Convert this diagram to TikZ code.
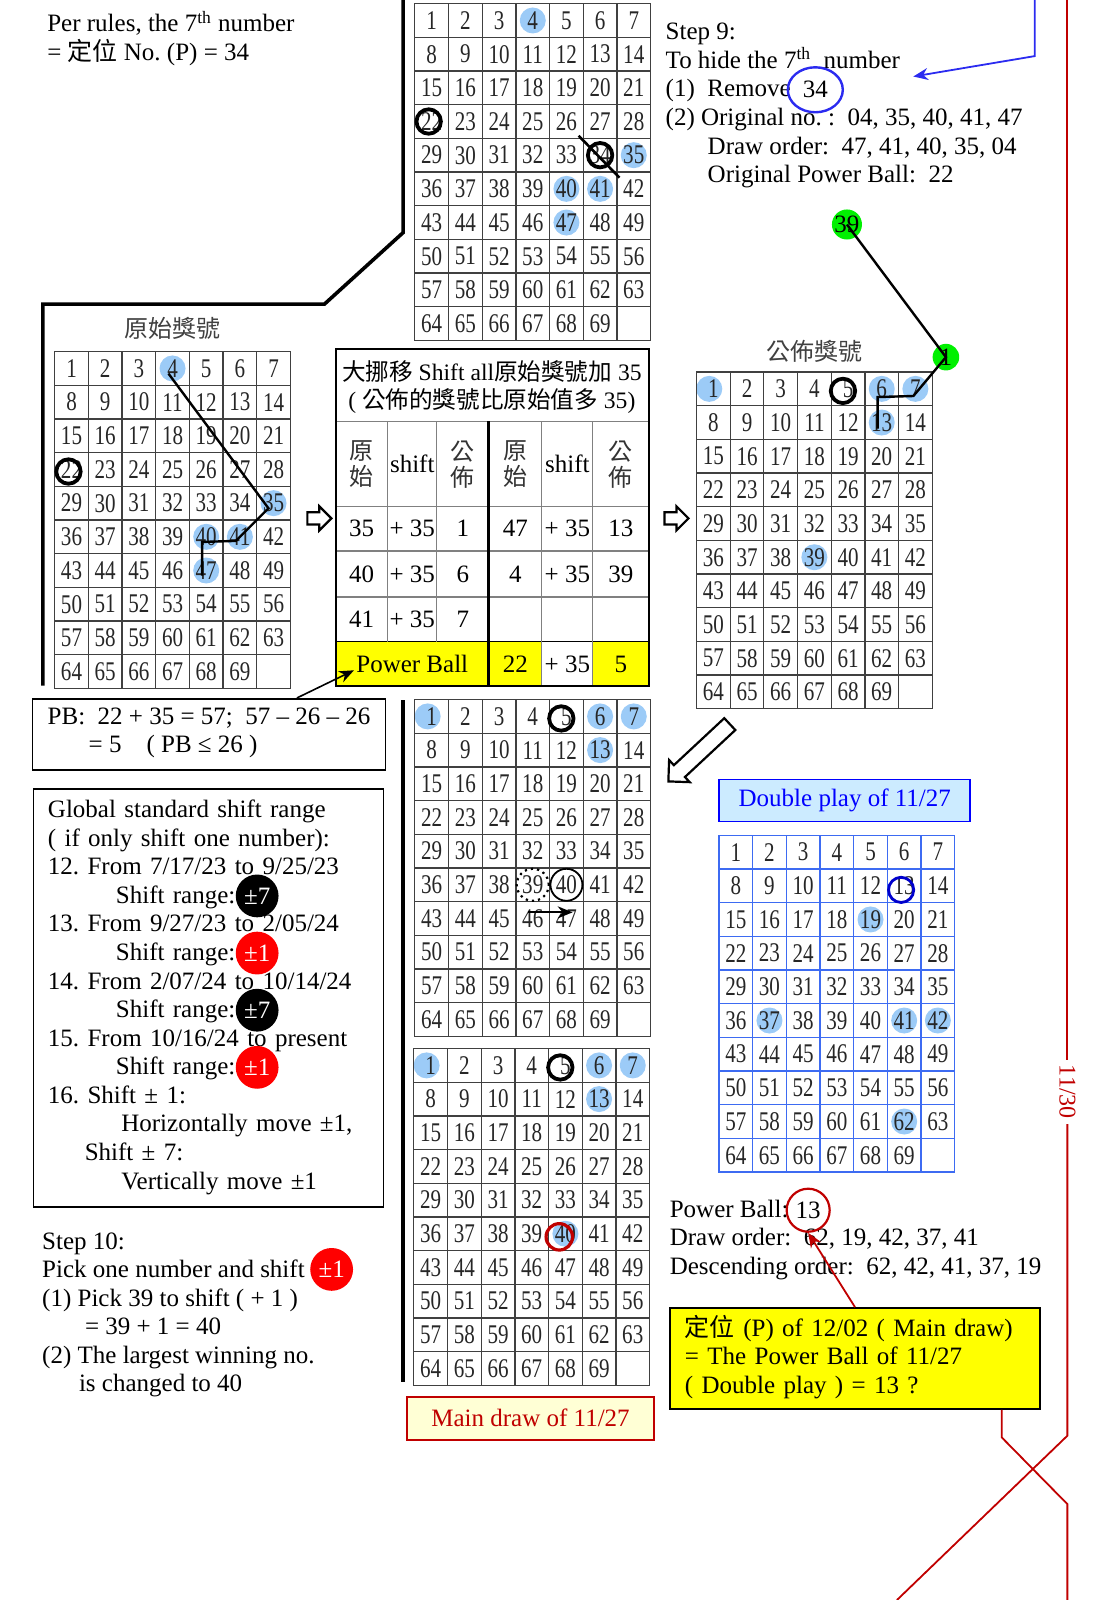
\documentclass[tikz,border=0pt]{standalone}
\usepackage{fontspec}
\setmainfont{Liberation Serif}
\newfontfamily\cjk{Noto Sans CJK TC}
\newfontfamily\gridfont[FakeStretch=0.78]{Liberation Serif}
\usetikzlibrary{arrows.meta,positioning,calc,backgrounds,shapes.geometric,shapes.arrows}
\definecolor{lotBall}{HTML}{9CCBF7}
\definecolor{lotGreen}{HTML}{00F000}
\definecolor{lotRed}{HTML}{C00000}
\definecolor{lotBlue}{HTML}{2B2BF0}
\definecolor{lotGrid}{HTML}{3D6BF2}
\definecolor{lotYellow}{HTML}{FFFF00}
\definecolor{lotCream}{HTML}{FFFFD5}
\definecolor{lotSky}{HTML}{CCEBFF}
\newcommand\txtsize{\fontsize{12.5}{14.29}\selectfont}
% 7 x 10 number grid: name, left, top, line colour
\newcommand\lottogrid[4]{%
  \foreach \r in {0,...,9}{
    \foreach \c in {0,...,6}{
      \pgfmathtruncatemacro\cellno{7*\r+\c+1}
      \ifnum\cellno<70
        \node[lotcell=#4] (#1-\cellno) at (#2+33*\c,#3+33*\r) {\cellno};
      \else
        \node[lotcell=#4] (#1-\cellno) at (#2+33*\c,#3+33*\r) {};
      \fi
    }
  }
}
\tikzset{
  >={Stealth[length=2.6mm,width=2.1mm]},
  lotcell/.style={draw=#1, line width=0.6pt, minimum size=16.84pt, inner sep=0pt,
                  anchor=north west, text=black!85,
                  font=\gridfont\fontsize{13.5}{14}\selectfont},
  ballfill/.style={fill=lotBall},
  markring/.style={draw=black, line width=1.9pt},
  txt/.style={anchor=north west, align=left, inner sep=0pt, font=\txtsize,
              execute at begin node=\strut},
  txtbox/.style={draw, line width=0.9pt, anchor=north west, align=left, font=\txtsize,
                 inner xsep=7.2pt, inner ysep=0pt,
                 execute at begin node=\strut, execute at end node=\strut},
  titlebox/.style={draw, line width=0.9pt, anchor=north west, align=center,
                   font=\txtsize, inner sep=0pt},
  badge/.style={circle, minimum size=21.4pt, inner sep=0pt, text=white, font=\txtsize},
  greenball/.style={circle, fill=lotGreen, minimum size=13.3pt, inner sep=0pt, font=\txtsize},
  gridlabel/.style={font=\cjk\fontsize{12}{14}\selectfont, text=black!75},
  tabtxt/.style={font=\txtsize, inner sep=0pt},
  tabtitle/.style={font=\fontsize{11.8}{14}\selectfont, inner sep=0pt},
  tabhead/.style={font=\cjk\fontsize{12}{13}\selectfont, align=center, inner sep=0pt, text=black!80},
  tabgrey/.style={draw=black!50, line width=0.6pt},
  hollow/.style={single arrow, draw, fill=white, line width=1.1pt, inner xsep=0pt},
  trail/.style={draw, line width=1.2pt},
  redline/.style={draw=lotRed, line width=0.9pt},
}
\begin{document}
\frenchspacing
\begin{tikzpicture}[x=0.5102pt,y=-0.5102pt]
\useasboundingbox (0,0) rectangle (1078,1568);

% grids
\lottogrid{top}{406}{3}{black!75}
\lottogrid{orig}{53}{344}{black!75}
\lottogrid{pub}{682}{364}{black!75}
\lottogrid{mid}{406}{685}{black!75}
\lottogrid{low}{405}{1027}{black!75}
\lottogrid{dbl}{704}{818}{lotGrid}

\node[gridlabel] (origlabel) at (169,322) {原始獎號};
\node[gridlabel] (publabel) at (798,344) {公佈獎號};

% winning balls behind the numbers
\begin{scope}[on background layer]
  \foreach \k in {4,35,40,41,47} {
    \fill[ballfill] (top-\k) circle[radius=6.5pt];
    \fill[ballfill] (orig-\k) circle[radius=6.5pt];
  }
  \foreach \k in {6,7,13,39} \fill[ballfill] (pub-\k) circle[radius=6.5pt];
  \foreach \k in {6,7,13,40} \fill[ballfill] (low-\k) circle[radius=6.5pt];
  \foreach \k in {6,7,13} \fill[ballfill] (mid-\k) circle[radius=6.5pt];
  \foreach \g in {pub,mid,low} \fill[ballfill] ($(\g-1)+(-4,0)$) circle[radius=6.5pt];
  \foreach \k in {19,37,41,42,62} \fill[ballfill] (dbl-\k) circle[radius=6.5pt];
\end{scope}

% rings
\draw[markring] ($(top-22)+(-3,0)$) circle[radius=6.1pt];
\draw[markring] (top-34) circle[radius=6.1pt];
\draw[line width=1.3pt] ($(top-34)+(-21,-19)$) -- ($(top-34)+(19,22)$);
\draw[markring] ($(orig-22)+(-3,2)$) circle[radius=6.1pt];
\foreach \g in {pub,mid,low} \draw[markring] ($(\g-5)+(-5,2)$) circle[radius=6.1pt];
\draw[line width=1.1pt, dotted] (mid-39) circle[radius=8pt];
\draw[line width=0.9pt] (mid-40) circle[radius=8pt];
\draw[->, line width=1.1pt] ($(mid-46)+(-5,-6)$) -- ($(mid-47)+(6,-6)$);
\draw[draw=lotRed, line width=1.6pt] ($(low-40)+(-6,3)$) circle[radius=6.6pt];
\draw[draw=blue!80!black, line width=1.4pt] ($(dbl-13)+(-3,4)$) circle[radius=6.3pt];

% draw order trails
\draw[trail] ($(orig-4)+(-4,5)$) -- ($(orig-35)+(-5,5)$) -- ($(orig-41)+(-4,4)$)
  -- ($(orig-40)+(-4,5)$) -- ($(orig-47)+(-4,5)$);
\node[greenball] (g39) at (830,220) {39};
\node[greenball] (g1) at (927,350) {1};
\draw[trail] (g39.center) -- (g1.center) -- ($(pub-7)+(-2,7)$) -- ($(pub-6)+(-4,8)$)
  -- ($(pub-13)+(-4,6)$);

% frame lines
\coordinate (br-a) at (395,0);
\coordinate (br-b) at (395,228);
\coordinate (br-c) at (318,298);
\coordinate (br-d) at (42,298);
\coordinate (br-e) at (42,672);
\draw[line width=1.8pt] (br-a) -- (br-b) -- (br-c) -- (br-d) -- (br-e);
\coordinate (mv-a) at (395,686);
\coordinate (mv-b) at (395,1354);
\draw[line width=1.8pt] (mv-a) -- (mv-b);

% texts
\node[txt] (rules) at (46,10.4) {Per rules, the 7\textsuperscript{th} number\\
  = {\cjk 定位} No. (P) = 34};
\node[txt] (step9) at (652,22.4) {Step 9:\\
  To hide the 7\textsuperscript{th}\ \ number\\
  (1)\ \ Remove\\
  (2) Original no. :\ \ 04, 35, 40, 41, 47\\
  \hspace*{21pt}Draw order:\ \ 47, 41, 40, 35, 04\\
  \hspace*{21pt}Original Power Ball:\ \ 22};
\node[ellipse, draw=lotBlue, line width=1.2pt, minimum width=27.5pt, minimum height=22.5pt,
      inner sep=0pt, font=\txtsize] (rm34) at (799,88) {34};
\coordinate (bl-top) at (1014,0);
\coordinate (bl-knee) at (1014,55);
\coordinate (bl-tip) at (895,75);
\draw[->, draw=lotBlue, line width=0.9pt] (bl-top) -- (bl-knee) -- (bl-tip);

% shift table
\fill[lotYellow] (329,629) rectangle (479,672);
\fill[lotYellow] (479,629) rectangle (531,672);
\fill[lotYellow] (581,629) rectangle (636,672);
\draw[tabgrey] (329,413) -- (636,413) (329,496) -- (636,496)
  (329,540) -- (636,540) (329,585) -- (636,585);
\draw[line width=0.6pt] (329,629) -- (636,629);
\draw[tabgrey] (380,413) -- (380,629) (428,413) -- (428,629)
  (531,413) -- (531,672) (581,413) -- (581,672);
\draw[line width=1.5pt] (479,413) -- (479,672);
\draw[line width=1.2pt] (329,342) rectangle (636,672);
\node[tabtitle] (tab-t1) at (482,364) {{\cjk 大挪移} Shift all{\cjk 原始獎號加} 35};
\node[tabtitle] (tab-t2) at (482,393) {( {\cjk 公佈的獎號比原始值多} 35)};
\node[tabhead] (hd-a1) at (354.5,455) {原\\始};
\node[tabtxt] (hd-b1) at (404,455) {shift};
\node[tabhead] (hd-c1) at (453.5,455) {公\\佈};
\node[tabhead] (hd-a2) at (505,455) {原\\始};
\node[tabtxt] (hd-b2) at (556,455) {shift};
\node[tabhead] (hd-c2) at (608.5,455) {公\\佈};
\foreach \a/\b/\c/\d/\e/\f [count=\i] in
    {35/{+ 35}/1/47/{+ 35}/13, 40/{+ 35}/6/4/{+ 35}/39, 41/{+ 35}/7/{}/{}/{}} {
  \node[tabtxt] (row\i-a) at (354.5,{518+44.5*(\i-1)}) {\a};
  \node[tabtxt] (row\i-b) at (404,{518+44.5*(\i-1)}) {\b};
  \node[tabtxt] (row\i-c) at (453.5,{518+44.5*(\i-1)}) {\c};
  \node[tabtxt] (row\i-d) at (505,{518+44.5*(\i-1)}) {\d};
  \node[tabtxt] (row\i-e) at (556,{518+44.5*(\i-1)}) {\e};
  \node[tabtxt] (row\i-f) at (608.5,{518+44.5*(\i-1)}) {\f};
}
\node[tabtxt] (tab-pb) at (404,651) {Power Ball};
\node[tabtxt] (tab-pb22) at (505,651) {22};
\node[tabtxt] (tab-pbsh) at (556,651) {+ 35};
\node[tabtxt] (tab-pb5) at (608.5,651) {5};

\node[hollow, minimum height=12pt, inner ysep=2.5pt, single arrow head extend=3pt] (shiftA) at (310,508) {};
\node[hollow, minimum height=12pt, inner ysep=2.5pt, single arrow head extend=3pt] (shiftB) at (660,508) {};
\node[hollow, minimum height=42pt, inner ysep=3.5pt, single arrow head extend=3.5pt, rotate=223] (dblarrow) at (688,735) {};

% left boxes
\node[txtbox, minimum width=176.5pt, minimum height=35.7pt] (pbbox) at (31,684)
  {PB:\ \ 22 + 35 = 57;\ \ 57 – 26 – 26\\\hspace*{20.5pt}= 5\quad ( PB ≤ 26 )};
\draw[->, line width=0.8pt] ($(pbbox.north west)+(260,0)$) -- ([xshift=-1pt,yshift=-3pt]tab-pb.west);
\node[txtbox, minimum width=175pt, minimum height=209pt, text width=160.6pt] (rangebox) at (32,772)
  {Global standard shift range\\
   ( if only shift one number):\\
   12. From 7/17/23 to 9/25/23\\
   \hspace*{34pt}Shift range:\\
   13. From 9/27/23 to 2/05/24\\
   \hspace*{34pt}Shift range:\\
   14. From 2/07/24 to 10/14/24\\
   \hspace*{34pt}Shift range:\\
   15. From 10/16/24 to present\\
   \hspace*{34pt}Shift range:\\
   16. Shift ± 1:\\
   \hspace*{36.7pt}Horizontally move ±1,\\
   \hspace*{18.4pt}Shift ± 7:\\
   \hspace*{36.7pt}Vertically move ±1};
\node[badge, fill=black] (badge1) at (252,878) {±7};
\node[badge, fill=red] (badge2) at (252,934) {±1};
\node[badge, fill=black] (badge3) at (252,990) {±7};
\node[badge, fill=red] (badge4) at (252,1046) {±1};

\node[txt] (step10) at (41,1207.4) {Step 10:\\
  Pick one number and shift\\
  (1) Pick 39 to shift ( + 1 )\\
  \hspace*{21.4pt}= 39 + 1 = 40\\
  (2) The largest winning no.\\
  \hspace*{18.4pt}is changed to 40};
\node[badge, fill=red] (badge5) at (325,1244) {±1};

% draw titles
\node[titlebox, draw=lotRed, fill=lotCream, text=lotRed, minimum width=123.5pt, minimum height=21.4pt]
  (mainbox) at (398,1368) {Main draw of 11/27};
\node[titlebox, draw=blue, fill=lotSky, text=blue, minimum width=125.5pt, minimum height=21pt]
  (dblbox) at (704,763) {Double play of 11/27};

% power ball notes
\node[txt] (pbnote) at (656,1175.4) {Power Ball:\\
  Draw order:\ \ 62, 19, 42, 37, 41\\
  Descending order:\ \ 62, 42, 41, 37, 19};
\node[circle, draw=lotRed, line width=1.1pt, minimum size=21.5pt, inner sep=0pt, font=\txtsize]
  (pb13) at (792,1186) {13};
\node[txtbox, fill=lotYellow, minimum width=184.7pt, minimum height=50.5pt, text width=170pt] (pqbox) at (656,1281)
  {{\cjk 定位} (P) of 12/02 ( Main draw)\\
   = The Power Ball of 11/27\\
   ( Double play ) = 13 ?};
\draw[->, draw=lotRed, line width=0.9pt] (pqbox.north) -- (pb13.south);

% date line
\node[font=\fontsize{12}{14}\selectfont, text=lotRed, rotate=-90, inner sep=2.5pt] (d1130) at (1046,1070) {11/30};
\coordinate (rl-top) at (1046,0);
\coordinate (rl-knee) at (1046,1407);
\coordinate (rl-foot) at (879,1568);
\coordinate (rs-knee) at (1046,1474);
\coordinate (rs-foot) at (1046,1568);
\draw[redline] (rl-top) -- (d1130.west);
\draw[redline] (d1130.east) -- (rl-knee) -- (rl-foot);
\draw[redline] ($(pqbox.south east)+(-38,0)$) -- ++(0,27) -- (rs-knee) -- (rs-foot);
\end{tikzpicture}
\end{document}
